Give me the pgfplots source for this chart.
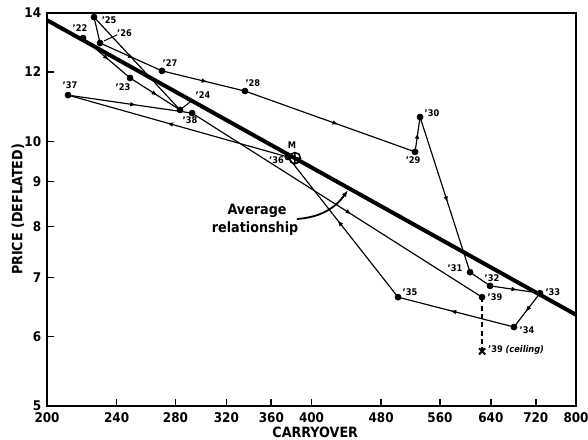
\documentclass[border=0pt]{standalone}
\usepackage{fontspec}
\setmainfont{DejaVu Sans Condensed}
\usepackage{pgfplots}
\pgfplotsset{compat=1.18}
\usetikzlibrary{decorations.markings,arrows.meta}

% one path between two years; aseg carries a mid arrow
\pgfplotsset{
  seg/.style={black, line width=0.7pt, mark=none},
  aseg/.style={seg, postaction={decorate},
    decoration={markings, mark=at position 0.55 with {\arrow{Latex[length=3.6pt,width=2.8pt]}}}},
}
\newcommand{\seg}[5][aseg]{\addplot[#1] coordinates {(#2,#3) (#4,#5)};}

\begin{document}
\begin{tikzpicture}
\useasboundingbox (0,0) rectangle (352.8pt,263.4pt);
\begin{axis}[
    at={(28.2pt,19.8pt)}, anchor=south west,
    scale only axis,
    width=317.4pt, height=235.8pt,
    xmode=log, ymode=log,
    xmin=200, xmax=800, ymin=5, ymax=14,
    xtick={200,240,280,320,360,400,480,560,640,720,800},
    xticklabels={200,240,280,320,360,400,480,560,640,720,800},
    ytick={5,6,7,8,9,10,12,14},
    yticklabels={5,6,7,8,9,10,12,14},
    xminorticks=false, yminorticks=false,
    xtick pos=left, ytick pos=left,
    tick align=inside,
    major tick length=4pt,
    tick style={line width=1pt, black},
    axis line style={line width=1.3pt},
    ticklabel style={font=\bfseries\fontsize{8}{9}\selectfont},
    xticklabel style={yshift=-0.5pt},
    xlabel={CARRYOVER},
    ylabel={PRICE (DEFLATED)},
    label style={font=\bfseries\fontsize{8.5}{10}\selectfont},
    xlabel style={at={(axis description cs:0.507,-0.066)}, anchor=center},
    ylabel style={at={(axis description cs:-0.055,0.5)}, anchor=center},
    clip=false,
  ]
  % average relationship
  \addplot[black, line width=2.4pt] coordinates {(200,13.74) (800,6.35)};

  % year to year path
  \seg{219.8}{13.11}{248.6}{11.81}
  \seg{248.6}{11.81}{283.4}{10.86}
  \seg[seg]{283.4}{10.86}{226.2}{13.85}
  \seg[seg]{226.2}{13.85}{229.8}{12.94}
  \seg{229.8}{12.94}{270.3}{12.03}
  \seg{270.3}{12.03}{336}{11.41}
  \seg{336}{11.41}{524.7}{9.73}
  \seg{524.7}{9.73}{531.6}{10.66}
  \seg{531.6}{10.66}{606}{7.10}
  \seg[seg]{606}{7.10}{638.6}{6.85}
  \seg{638.6}{6.85}{728}{6.72}
  \seg{728}{6.72}{680}{6.15}
  \seg{680}{6.15}{501.8}{6.65}
  \seg{501.8}{6.65}{376}{9.60}
  \seg{376}{9.60}{211.3}{11.29}
  \seg{211.3}{11.29}{292.5}{10.77}
  \seg{292.5}{10.77}{625.4}{6.65}

  % 1939 with ceiling
  \addplot[black, line width=0.9pt, dash pattern=on 3pt off 2pt] coordinates {(625.4,6.65) (625.4,5.77)};
  \addplot[only marks, mark=x, mark size=2.6pt, line width=1.2pt] coordinates {(625.4,5.77)};

  \addplot[only marks, mark=*, mark size=1.8pt, black] coordinates {
    (219.8,13.11) (248.6,11.81) (283.4,10.86) (226.2,13.85) (229.8,12.94)
    (270.3,12.03) (336,11.41) (524.7,9.73) (531.6,10.66) (606,7.10)
    (638.6,6.85) (728,6.72) (680,6.15) (501.8,6.65) (376,9.60)
    (211.3,11.29) (292.5,10.77) (625.4,6.65)
  };
  % mean
  \addplot[only marks, mark=oplus, mark size=3.4pt, line width=0.9pt, black, mark options={fill=white}] coordinates {(383,9.57)};

  % labels
  \begin{scope}[every node/.style={font=\bfseries\fontsize{5.5}{6}\selectfont, inner sep=0.5pt}]
    \node at (axis cs:218,13.46) {'22};
    \node at (axis cs:244,11.53) {'23};
    \node at (axis cs:301,11.29) {'24};
    \node at (axis cs:235.3,13.75) {'25};
    \node at (axis cs:245,13.28) {'26};
    \node at (axis cs:276,12.28) {'27};
    \node at (axis cs:343,11.65) {'28};
    \node at (axis cs:522,9.53) {'29};
    \node at (axis cs:548.5,10.77) {'30};
    \node at (axis cs:582.6,7.18) {'31};
    \node at (axis cs:642,6.99) {'32};
    \node at (axis cs:753,6.74) {'33};
    \node at (axis cs:703.6,6.10) {'34};
    \node at (axis cs:517.8,6.74) {'35};
    \node at (axis cs:365,9.53) {'36};
    \node at (axis cs:380,9.91) {M};
    \node at (axis cs:212.4,11.59) {'37};
    \node at (axis cs:290.9,10.58) {'38};
    \node at (axis cs:647,6.65) {'39};
    \node[anchor=west] at (axis cs:633.6,5.79) {'39 \itshape(ceiling)};
  \end{scope}
  \draw[line width=0.6pt] (axis cs:293.2,11.15) -- (axis cs:284.9,10.91);
  \draw[line width=0.6pt] (axis cs:240.3,13.22) -- (axis cs:232.2,13.01);

  \node[font=\bfseries\fontsize{8.5}{10}\selectfont, inner sep=0pt] at (axis cs:346.8,8.33) {Average};
  \node[font=\bfseries\fontsize{8.5}{10}\selectfont, inner sep=0pt] at (axis cs:345,7.95) {relationship};
  \draw[line width=1.1pt, -{Latex[length=4pt,width=3pt]}] (axis cs:385,8.16) to[bend right=25] (axis cs:440,8.8);
\end{axis}
\end{tikzpicture}
\end{document}
